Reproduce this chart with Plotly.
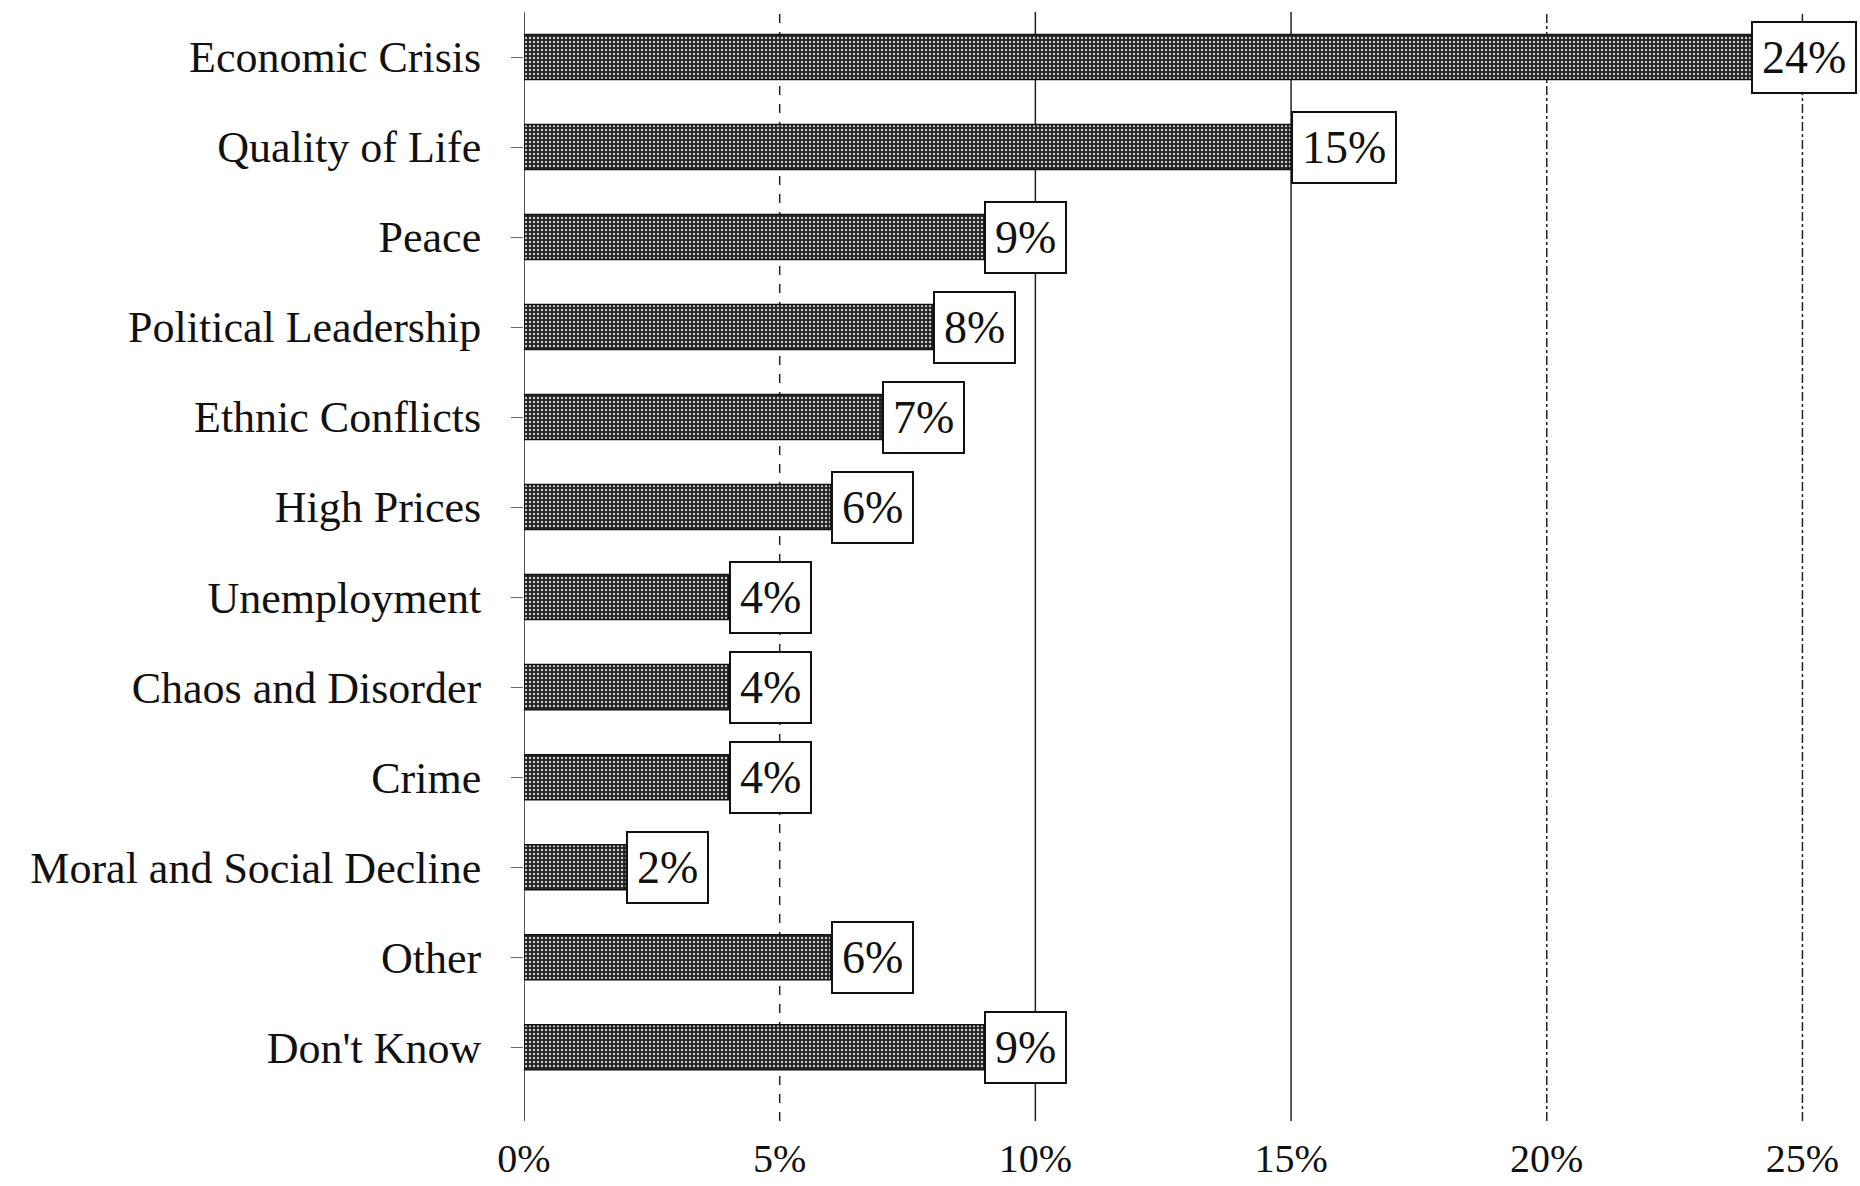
import plotly.graph_objects as go

# Survey: most important problem facing the country (share of respondents, %)
categories = [
    "Economic Crisis", "Quality of Life", "Peace", "Political Leadership",
    "Ethnic Conflicts", "High Prices", "Unemployment", "Chaos and Disorder",
    "Crime", "Moral and Social Decline", "Other", "Don't Know",
]
values = [24, 15, 9, 8, 7, 6, 4, 4, 4, 2, 6, 9]

tick_values = [0, 5, 10, 15, 20, 25]
tick_text = ["0%", "5%", "10%", "15%", "20%", "25%"]
grid_dash = ["solid", "dash", "solid", "solid", "dashdot", "dashdot"]

FONT = "Liberation Serif, Times New Roman, serif"

fig = go.Figure()
fig.add_trace(go.Bar(
    y=categories,
    x=values,
    orientation="h",
    width=0.5,
    marker=dict(
        color="#2b2b2b",
        line=dict(color="#111111", width=1.5),
        pattern=dict(shape=".", fgcolor="#c8c8c8", bgcolor="#202020",
                     size=4, solidity=0.3, fillmode="replace"),
    ),
    hoverinfo="skip",
))

# Boxed value labels sitting at the end of each bar
for cat, v in zip(categories, values):
    fig.add_annotation(
        x=v, y=cat, xref="x", yref="y",
        text=f"{v}%", showarrow=False,
        xanchor="left", yanchor="middle",
        font=dict(family=FONT, size=46, color="#111111"),
        bgcolor="white", bordercolor="#111111", borderwidth=2, borderpad=9,
    )

# Vertical grid lines drawn behind the bars
for tv, d in zip(tick_values, grid_dash):
    fig.add_shape(
        type="line", xref="x", yref="paper",
        x0=tv, x1=tv, y0=0, y1=1,
        line=dict(color="#222222", width=1.5, dash=d),
        layer="below",
    )

fig.update_layout(
    width=1860, height=1186,
    margin=dict(l=524, r=55, t=12, b=65, autoexpand=False),
    paper_bgcolor="white", plot_bgcolor="white",
    showlegend=False,
    font=dict(family=FONT, size=44, color="#111111"),
)
fig.update_xaxes(
    range=[0, 25.05],
    tickvals=tick_values, ticktext=tick_text,
    showgrid=False, zeroline=False, showline=False,
    ticks="outside", ticklen=2, tickcolor="rgba(0,0,0,0)",
    tickfont=dict(family=FONT, size=40, color="#111111"),
    automargin=False,
)
fig.update_yaxes(
    categoryorder="array", categoryarray=categories,
    range=[11.82, -0.5],
    showgrid=False, zeroline=False, showline=False,
    ticks="outside", ticklen=12, tickcolor="#666666", tickwidth=1,
    ticklabelstandoff=21,
    tickfont=dict(family=FONT, size=44, color="#111111"),
    automargin=False,
)

fig.write_html("out.html")
